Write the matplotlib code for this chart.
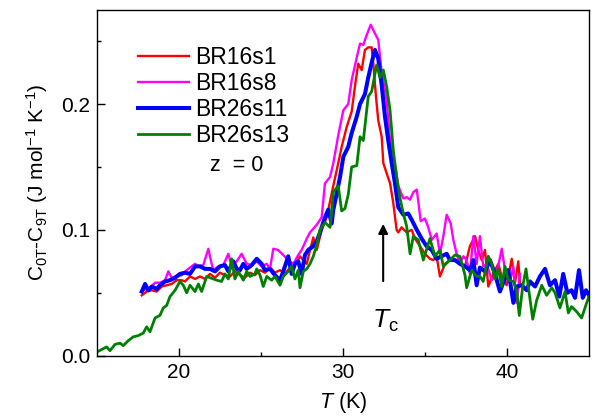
import matplotlib
matplotlib.use('Agg')
import matplotlib.pyplot as plt
import numpy as np

plt.rcParams['font.family'] = ['Liberation Sans', 'DejaVu Sans']
plt.rcParams['mathtext.fontset'] = 'custom'
plt.rcParams['mathtext.rm'] = 'Liberation Sans'
plt.rcParams['mathtext.it'] = 'Liberation Sans:italic'

# BR16s1
t_s1 = [17.73, 18.03, 18.34, 18.64, 18.95, 19.25, 19.55, 19.86, 20.16, 20.37, 20.67, 20.98, 21.28, 21.59,
        21.89, 22.20, 22.50, 22.80, 23.11, 23.41, 23.72, 24.02, 24.33, 24.63, 24.94, 25.24, 25.55, 25.85,
        26.16, 26.46, 26.77, 27.07, 27.38, 27.58, 27.79, 27.99, 28.19, 28.40, 28.70, 29.01, 29.31, 29.71,
        29.92, 30.23, 30.53, 30.73, 30.93, 31.14, 31.34, 31.54, 31.75, 31.85, 32.01, 32.15, 32.36, 32.46,
        32.66, 32.87, 33.07, 33.27, 33.37, 33.57, 33.88, 34.19, 34.39, 34.70, 35.00, 35.30, 35.51, 35.71,
        35.91, 36.22, 36.52, 36.83, 37.13, 37.44, 37.74, 38.05, 38.25, 38.46, 38.66, 38.86, 39.16, 39.47,
        39.68, 39.98, 40.29, 40.49, 40.69, 40.79]
c_s1 = [0.048, 0.051, 0.052, 0.051, 0.055, 0.056, 0.057, 0.060, 0.060, 0.059, 0.063, 0.061, 0.063, 0.061,
        0.065, 0.062, 0.066, 0.064, 0.063, 0.067, 0.064, 0.062, 0.066, 0.064, 0.068, 0.066, 0.070, 0.066,
        0.068, 0.065, 0.070, 0.072, 0.079, 0.076, 0.073, 0.084, 0.094, 0.084, 0.100, 0.110, 0.129, 0.153,
        0.166, 0.182, 0.194, 0.214, 0.232, 0.227, 0.243, 0.245, 0.245, 0.232, 0.206, 0.187, 0.174, 0.153,
        0.145, 0.137, 0.121, 0.100, 0.098, 0.102, 0.098, 0.100, 0.093, 0.087, 0.081, 0.077, 0.076, 0.079,
        0.063, 0.073, 0.076, 0.076, 0.073, 0.071, 0.087, 0.095, 0.084, 0.076, 0.084, 0.055, 0.065, 0.073,
        0.063, 0.056, 0.077, 0.058, 0.075, 0.058]

# BR16s8
t_s8 = [17.82, 18.23, 18.54, 18.84, 19.15, 19.35, 19.55, 19.86, 20.16, 20.47, 20.77, 20.98, 21.18, 21.48,
        21.79, 21.99, 22.09, 22.40, 22.70, 23.01, 23.21, 23.52, 23.82, 24.13, 24.43, 24.74, 25.04, 25.35,
        25.55, 25.75, 26.05, 26.36, 26.66, 26.97, 27.27, 27.48, 27.79, 27.99, 28.40, 28.70, 28.90, 29.21,
        29.41, 29.71, 30.02, 30.32, 30.53, 30.84, 31.04, 31.24, 31.45, 31.69, 31.95, 32.15, 32.36, 32.66,
        32.87, 33.07, 33.24, 33.37, 33.68, 33.88, 34.09, 34.29, 34.50, 34.74, 35.00, 35.20, 35.41, 35.71,
        35.91, 36.12, 36.32, 36.57, 36.73, 36.93, 37.13, 37.34, 37.54, 37.74, 37.95, 38.15, 38.35, 38.55,
        38.76, 39.07, 39.37, 39.68, 39.88, 40.18, 40.38, 40.59, 40.79]
c_s8 = [0.052, 0.054, 0.058, 0.058, 0.060, 0.067, 0.062, 0.063, 0.064, 0.068, 0.071, 0.073, 0.071, 0.072,
        0.085, 0.073, 0.068, 0.071, 0.072, 0.081, 0.071, 0.075, 0.081, 0.073, 0.072, 0.075, 0.071, 0.073,
        0.069, 0.085, 0.084, 0.080, 0.076, 0.073, 0.080, 0.084, 0.093, 0.098, 0.104, 0.110, 0.137, 0.142,
        0.153, 0.175, 0.195, 0.200, 0.219, 0.237, 0.248, 0.247, 0.255, 0.263, 0.256, 0.251, 0.225, 0.203,
        0.171, 0.158, 0.147, 0.135, 0.125, 0.126, 0.124, 0.130, 0.132, 0.107, 0.109, 0.102, 0.092, 0.097,
        0.081, 0.095, 0.112, 0.105, 0.092, 0.081, 0.073, 0.079, 0.076, 0.065, 0.095, 0.073, 0.095, 0.071,
        0.073, 0.060, 0.065, 0.085, 0.068, 0.058, 0.071, 0.042, 0.065]

# BR26s11
t_s11 = [17.73, 17.93, 18.13, 18.34, 18.64, 18.84, 19.15, 19.45, 19.76, 20.06, 20.37, 20.67, 20.98, 21.28,
         21.59, 21.89, 22.20, 22.50, 22.80, 23.01, 23.31, 23.52, 23.72, 23.92, 24.13, 24.43, 24.74, 25.04,
         25.24, 25.55, 25.85, 26.16, 26.36, 26.66, 26.87, 27.07, 27.27, 27.48, 27.68, 27.88, 28.19, 28.40,
         28.60, 28.90, 29.10, 29.31, 29.41, 29.62, 29.82, 30.02, 30.32, 30.53, 30.84, 31.04, 31.34, 31.54,
         31.75, 31.95, 32.15, 32.36, 32.56, 32.76, 32.97, 33.17, 33.37, 33.68, 33.98, 34.19, 34.50, 34.80,
         35.10, 35.41, 35.71, 36.01, 36.32, 36.52, 36.83, 37.13, 37.44, 37.74, 37.95, 38.15, 38.35, 38.66,
         38.96, 39.27, 39.57, 39.77, 40.08, 40.39, 40.59, 40.90, 41.20, 41.40, 41.71, 42.01, 42.32, 42.62,
         42.93, 43.19, 43.43, 43.68, 43.94, 44.15, 44.39, 44.62, 44.82, 45.00]
c_s11 = [0.051, 0.057, 0.052, 0.055, 0.053, 0.056, 0.059, 0.060, 0.062, 0.065, 0.066, 0.065, 0.071, 0.071,
         0.069, 0.069, 0.067, 0.071, 0.072, 0.067, 0.075, 0.069, 0.068, 0.073, 0.069, 0.072, 0.077, 0.073,
         0.068, 0.069, 0.064, 0.060, 0.067, 0.079, 0.065, 0.073, 0.075, 0.065, 0.080, 0.084, 0.087, 0.091,
         0.098, 0.110, 0.116, 0.105, 0.116, 0.129, 0.142, 0.158, 0.166, 0.177, 0.190, 0.200, 0.208, 0.221,
         0.233, 0.243, 0.236, 0.215, 0.190, 0.171, 0.153, 0.137, 0.118, 0.112, 0.113, 0.108, 0.100, 0.093,
         0.087, 0.084, 0.077, 0.079, 0.081, 0.076, 0.076, 0.073, 0.071, 0.068, 0.076, 0.056, 0.070, 0.067,
         0.076, 0.065, 0.051, 0.058, 0.068, 0.042, 0.055, 0.056, 0.052, 0.059, 0.055, 0.063, 0.069, 0.056,
         0.060, 0.047, 0.065, 0.050, 0.052, 0.046, 0.068, 0.046, 0.052, 0.048]

# BR26s13
t_s13 = [15.00, 15.59, 15.79, 16.10, 16.40, 16.60, 16.91, 17.21, 17.52, 17.82, 18.03, 18.23, 18.54, 18.84,
         19.04, 19.25, 19.45, 19.76, 20.06, 20.26, 20.47, 20.67, 20.98, 21.18, 21.38, 21.69, 22.09, 22.30,
         22.60, 22.80, 23.01, 23.21, 23.41, 23.62, 23.92, 24.13, 24.33, 24.63, 24.74, 24.94, 25.14, 25.35,
         25.65, 25.85, 26.16, 26.36, 26.66, 26.87, 27.07, 27.27, 27.38, 27.58, 27.79, 27.99, 28.19, 28.40,
         28.60, 28.90, 29.21, 29.41, 29.71, 29.92, 30.12, 30.32, 30.53, 30.84, 31.04, 31.24, 31.54, 31.75,
         32.05, 32.26, 32.46, 32.66, 32.87, 33.07, 33.27, 33.48, 33.68, 33.88, 34.09, 34.29, 34.59, 34.90,
         35.30, 35.61, 35.91, 36.12, 36.52, 36.83, 37.13, 37.44, 37.54, 37.85, 38.15, 38.35, 38.55, 38.86,
         39.07, 39.27, 39.47, 39.68, 39.88, 40.08, 40.39, 40.59, 40.75, 40.96, 41.16, 41.30, 41.57, 41.81,
         42.12, 42.42, 42.73, 42.93, 43.23, 43.54, 43.74, 43.94, 44.25, 44.55, 44.86, 45.00]
c_s13 = [0.003, 0.007, 0.004, 0.009, 0.010, 0.008, 0.012, 0.015, 0.016, 0.018, 0.023, 0.019, 0.030, 0.032,
         0.038, 0.040, 0.047, 0.052, 0.059, 0.056, 0.050, 0.056, 0.051, 0.057, 0.051, 0.063, 0.061, 0.060,
         0.059, 0.065, 0.061, 0.077, 0.061, 0.067, 0.060, 0.067, 0.063, 0.065, 0.069, 0.064, 0.055, 0.063,
         0.060, 0.063, 0.056, 0.063, 0.067, 0.071, 0.061, 0.068, 0.054, 0.067, 0.069, 0.073, 0.079, 0.088,
         0.100, 0.106, 0.102, 0.130, 0.135, 0.115, 0.117, 0.128, 0.150, 0.151, 0.174, 0.171, 0.206, 0.210,
         0.231, 0.221, 0.227, 0.214, 0.195, 0.163, 0.142, 0.125, 0.113, 0.103, 0.081, 0.095, 0.092, 0.076,
         0.093, 0.079, 0.084, 0.071, 0.076, 0.080, 0.079, 0.064, 0.054, 0.068, 0.063, 0.063, 0.059, 0.079,
         0.073, 0.061, 0.069, 0.055, 0.071, 0.060, 0.059, 0.052, 0.032, 0.055, 0.069, 0.055, 0.029, 0.044,
         0.056, 0.048, 0.054, 0.050, 0.038, 0.051, 0.034, 0.039, 0.035, 0.030, 0.042, 0.047]

labels = ['BR16s1', 'BR16s8', 'BR26s11', 'BR26s13']
colors = ['#ff0000', '#ff00ff', '#0000ff', '#008000']
widths = [1.7, 1.7, 2.9, 2.0]

fig = plt.figure(figsize=(6.01, 4.18), dpi=100)
ax = fig.add_axes([0.1614, 0.149, 0.8186, 0.828])

series = [(t_s1, c_s1), (t_s8, c_s8), (t_s11, c_s11), (t_s13, c_s13)]
for (t, c), lab, col, lw in zip(series, labels, colors, widths):
    ax.plot(t, c, color=col, lw=lw, label=lab)

ax.set_xlim(15, 45)
ax.set_ylim(0, 0.275)
ax.set_xticks([20, 30, 40])
ax.set_xticks([25, 35], minor=True)
ax.set_yticks([0.0, 0.1, 0.2])
ax.set_yticklabels(['0.0', '0.1', '0.2'])
ax.set_yticks([0.05, 0.15, 0.25], minor=True)
ax.tick_params(which='both', direction='in', labelsize=15, width=1.0)
ax.tick_params(which='major', length=6, pad=5)
ax.tick_params(which='minor', length=3)
for s in ax.spines.values():
    s.set_linewidth(1.0)

ax.set_xlabel(r'$T$ (K)', fontsize=15.5, labelpad=6)
ax.set_ylabel(r'$\mathregular{C_{0T}}$-$\mathregular{C_{9T}}$ (J mol$^{\mathregular{-1}}$ K$^{\mathregular{-1}}$)',
              fontsize=15, labelpad=8)

leg = ax.legend(loc='upper left', bbox_to_anchor=(0.065, 0.92), frameon=False, fontsize=16.5,
                handlelength=2.2, handletextpad=0.3, labelspacing=0.12, borderaxespad=0)

ax.text(23.5, 0.151, 'z  = 0', fontsize=15.5, ha='center', va='center')

# Tc arrow
ax.annotate('', xy=(32.45, 0.107), xytext=(32.45, 0.057),
            arrowprops=dict(arrowstyle='-|>', color='black', lw=1.5, mutation_scale=14))
ax.text(32.6, 0.028, r'$T_{\mathregular{c}}$', fontsize=19, ha='center', va='center')

fig.savefig('out.png', dpi=100)
